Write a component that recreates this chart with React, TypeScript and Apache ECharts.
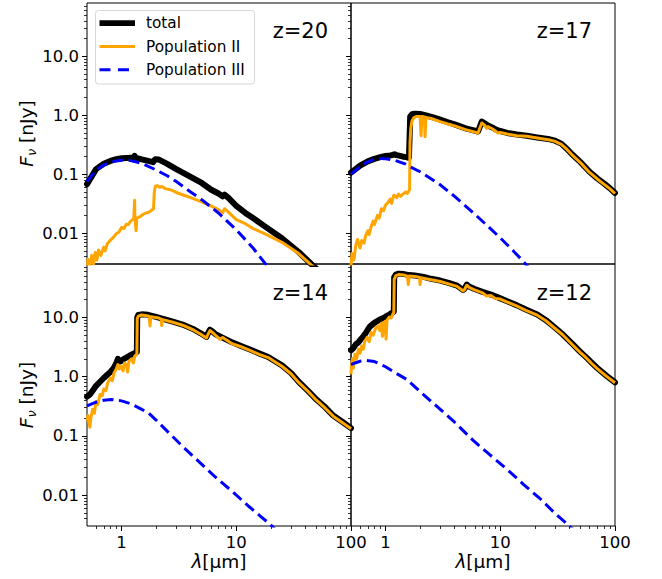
import React, { useEffect, useRef } from "react";
import * as echarts from "echarts";

// ---- data: [wavelength (µm), flux (nJy)] ----
const z20Total = [[0.5,0.068],[0.6,0.122],[0.7,0.15],[0.8,0.168],[0.9,0.18],[1.0,0.186],[1.1,0.188],[1.2,0.19],[1.28,0.19],[1.3,0.205],[1.32,0.19],[1.5,0.178],[1.7,0.168],[1.88,0.16],[1.93,0.172],[1.97,0.18],[2.1,0.178],[2.5,0.15],[3,0.122],[4,0.09],[5,0.071],[6,0.055],[7,0.047],[7.6,0.042],[7.9,0.045],[8.5,0.04],[10,0.029],[12,0.022],[14,0.018],[18,0.0128],[25,0.0082],[35,0.0048],[45,0.003],[50,0.0025]];
const z20PopII = [[0.5,0.0025],[0.51,0.0036],[0.53,0.0027],[0.55,0.0042],[0.57,0.003],[0.59,0.0047],[0.61,0.0035],[0.63,0.0052],[0.66,0.0042],[0.7,0.0058],[0.72,0.005],[0.75,0.0066],[0.8,0.0076],[0.85,0.0085],[0.9,0.0098],[0.95,0.0105],[1.0,0.0125],[1.05,0.012],[1.1,0.0142],[1.15,0.014],[1.2,0.016],[1.25,0.017],[1.28,0.018],[1.3,0.036],[1.31,0.017],[1.34,0.011],[1.36,0.018],[1.45,0.019],[1.55,0.021],[1.65,0.022],[1.75,0.023],[1.85,0.025],[1.9,0.026],[1.93,0.05],[1.97,0.062],[2.05,0.064],[2.15,0.06],[2.25,0.062],[2.4,0.057],[2.7,0.054],[3,0.049],[3.5,0.044],[4,0.04],[5,0.034],[6,0.029],[7,0.025],[7.6,0.022],[7.9,0.026],[8.5,0.023],[10,0.017],[12,0.0145],[14,0.012],[18,0.0096],[25,0.007],[35,0.0045],[45,0.0029],[50,0.0025]];
const z20PopIII = [[0.5,0.075],[0.6,0.118],[0.7,0.143],[0.8,0.159],[0.9,0.168],[1.0,0.172],[1.2,0.17],[1.5,0.153],[2,0.118],[2.5,0.094],[3,0.075],[4,0.05],[5,0.037],[7,0.022],[10,0.0114],[14,0.0056],[18,0.003],[21,0.0022]];

const z17Total = [[0.5,0.106],[0.6,0.14],[0.7,0.165],[0.8,0.182],[0.9,0.195],[1.0,0.203],[1.1,0.208],[1.15,0.212],[1.2,0.218],[1.25,0.21],[1.4,0.2],[1.5,0.195],[1.6,0.19],[1.64,0.95],[1.7,1.04],[1.8,1.06],[2.0,1.05],[2.3,0.98],[2.6,0.92],[3,0.84],[3.5,0.76],[4,0.7],[5,0.6],[6.4,0.53],[6.6,0.62],[6.9,0.78],[7.3,0.73],[7.8,0.67],[8.5,0.62],[9.2,0.57],[10,0.54],[11.5,0.5],[14,0.47],[17,0.45],[21,0.42],[27,0.39],[30,0.37],[34,0.33],[38,0.27],[42,0.22],[50,0.16],[60,0.11],[70,0.085],[80,0.07],[90,0.058],[100,0.048]];
const z17PopII = [[0.5,0.0028],[0.51,0.0045],[0.53,0.0035],[0.55,0.0062],[0.57,0.0078],[0.6,0.0056],[0.62,0.0075],[0.65,0.0068],[0.67,0.009],[0.7,0.011],[0.72,0.0095],[0.75,0.013],[0.78,0.016],[0.8,0.014],[0.85,0.02],[0.88,0.018],[0.92,0.026],[0.96,0.024],[1.0,0.03],[1.05,0.033],[1.1,0.038],[1.13,0.032],[1.18,0.044],[1.25,0.04],[1.3,0.046],[1.35,0.042],[1.4,0.045],[1.5,0.05],[1.55,0.047],[1.62,0.055],[1.635,0.35],[1.66,0.6],[1.7,0.8],[1.76,0.9],[1.85,0.95],[2.0,0.95],[2.04,0.45],[2.08,0.95],[2.18,0.93],[2.21,0.43],[2.25,0.92],[2.5,0.88],[3,0.78],[3.5,0.71],[4,0.66],[5,0.57],[6.4,0.5],[6.6,0.59],[6.9,0.74],[7.3,0.68],[7.6,0.6],[7.8,0.64],[8.5,0.59],[9.2,0.53],[9.5,0.5],[10,0.51],[11.5,0.48],[14,0.45],[17,0.44],[21,0.41],[27,0.38],[30,0.36],[34,0.32],[38,0.265],[42,0.215],[50,0.157],[60,0.107],[70,0.083],[80,0.068],[90,0.057],[100,0.047]];
const z17PopIII = [[0.5,0.1],[0.6,0.135],[0.7,0.162],[0.8,0.178],[0.9,0.185],[1.0,0.183],[1.2,0.172],[1.5,0.148],[1.63,0.134],[2,0.11],[3,0.066],[4,0.042],[6,0.021],[8,0.0125],[10,0.0083],[13,0.005],[15.5,0.0035],[18,0.0025]];

const z14Total = [[0.5,0.46],[0.53,0.5],[0.56,0.58],[0.6,0.7],[0.65,0.82],[0.7,0.95],[0.76,1.1],[0.8,1.2],[0.86,1.42],[0.9,1.7],[0.93,2.0],[0.96,1.8],[1.0,1.85],[1.05,2.0],[1.1,2.1],[1.15,2.2],[1.22,2.35],[1.3,2.5],[1.36,2.6],[1.37,10],[1.4,11],[1.5,11.3],[1.7,11.1],[2.0,10.2],[2.3,9.5],[2.8,8.5],[3.4,7.6],[4.2,6.4],[4.9,5.4],[5.5,4.7],[5.7,5.5],[5.9,6.2],[6.2,5.8],[6.6,5.2],[7.5,4.6],[9.2,3.8],[11,3.3],[13,2.9],[16,2.45],[19,2.15],[22,1.8],[25,1.55],[30,1.15],[35,0.82],[42,0.58],[50,0.41],[60,0.3],[70,0.22],[85,0.17],[100,0.135]];
const z14PopII = [[0.5,0.18],[0.51,0.22],[0.52,0.17],[0.53,0.14],[0.54,0.2],[0.56,0.28],[0.58,0.24],[0.6,0.38],[0.62,0.34],[0.65,0.5],[0.68,0.48],[0.7,0.62],[0.73,0.58],[0.76,0.8],[0.8,0.95],[0.83,0.85],[0.86,1.15],[0.9,1.35],[0.93,1.6],[0.96,1.35],[1.0,1.5],[1.03,1.25],[1.06,1.7],[1.1,1.6],[1.13,1.2],[1.16,1.8],[1.22,2.0],[1.27,1.7],[1.3,2.2],[1.36,2.4],[1.37,9.5],[1.4,10.5],[1.5,11],[1.6,10.8],[1.74,10.5],[1.77,7.2],[1.8,10.3],[2.1,9.8],[2.21,9.4],[2.24,7.3],[2.28,9.2],[2.8,8.3],[3.4,7.4],[4.2,6.2],[4.9,5.2],[5.5,4.5],[5.7,5.3],[5.9,6.0],[6.2,5.6],[6.6,5.0],[7.2,4.3],[7.6,4.6],[9.2,3.6],[11,3.2],[13,2.8],[16,2.35],[19,2.1],[22,1.75],[25,1.5],[30,1.12],[35,0.8],[42,0.57],[50,0.4],[60,0.29],[70,0.215],[85,0.165],[100,0.132]];
const z14PopIII = [[0.5,0.32],[0.6,0.37],[0.7,0.4],[0.82,0.41],[1.0,0.39],[1.2,0.35],[1.5,0.28],[1.71,0.245],[2,0.185],[2.5,0.12],[3.36,0.068],[4.5,0.04],[6.6,0.02],[9,0.012],[12.9,0.0064],[16,0.0045],[19.4,0.0033],[22,0.0026]];

const z12Total = [[0.5,2.8],[0.52,3.0],[0.55,3.5],[0.58,3.8],[0.61,4.3],[0.64,4.8],[0.67,5.4],[0.7,6.2],[0.73,7.0],[0.78,7.8],[0.84,8.6],[0.9,9.3],[0.96,9.8],[1.02,10.5],[1.08,11.2],[1.14,12],[1.18,12.5],[1.19,48],[1.23,53],[1.3,55],[1.45,54],[1.6,52],[1.8,51],[2.15,48.5],[2.5,45],[3,42],[3.6,38],[4.2,34.5],[4.75,29],[4.9,31],[5.1,36],[5.4,33],[5.9,30.5],[7,27],[8.3,24.4],[10,21],[11.5,18.8],[14,16],[16.7,13.6],[21,11.2],[25,9],[29,7.1],[35,5.2],[43,3.5],[50,2.6],[55,2.2],[58,2.0],[62,1.75],[70,1.4],[85,1.02],[100,0.8]];
const z12PopII = [[0.5,1.1],[0.505,1.6],[0.515,2.0],[0.525,1.4],[0.54,2.4],[0.56,2.0],[0.58,2.9],[0.6,2.5],[0.62,3.3],[0.64,2.9],[0.66,4.0],[0.69,4.6],[0.72,3.9],[0.75,5.6],[0.78,5.0],[0.82,6.6],[0.86,7.2],[0.89,6.0],[0.92,8.0],[0.94,4.8],[0.96,8.2],[0.99,8.6],[1.01,4.3],[1.03,9.0],[1.08,10.2],[1.12,9.8],[1.16,11.5],[1.18,12],[1.19,44],[1.23,51],[1.3,53],[1.45,52],[1.55,50],[1.58,36],[1.61,50],[1.8,49],[1.97,48],[2.0,36],[2.03,47],[2.5,43.5],[3,40.5],[3.6,36.5],[4.2,33.5],[4.75,28],[4.9,30],[5.1,35],[5.4,32],[5.9,29.5],[7,26],[7.6,23],[8.3,23.5],[9,21],[10,20.5],[11.5,18.2],[14,15.5],[16.7,13.2],[21,10.9],[25,8.8],[29,6.9],[35,5.1],[43,3.4],[50,2.55],[55,2.15],[58,1.95],[62,1.7],[70,1.37],[85,1.0],[100,0.79]];
const z12PopIII = [[0.5,1.6],[0.55,1.72],[0.6,1.82],[0.68,1.88],[0.8,1.8],[1.0,1.47],[1.2,1.18],[1.53,0.9],[2,0.56],[3,0.28],[4,0.17],[5.87,0.082],[8,0.049],[11.5,0.027],[16,0.015],[22.5,0.0085],[30,0.0049],[38.7,0.0032],[45,0.0024]];

const panelLabels = ["z=20", "z=17", "z=14", "z=12"];
const legendLabels = ["total", "Population II", "Population III"];
const xTickValues = [1, 10, 100];
const xTickLabels = ["1", "10", "100"];
const yTickValues = [0.01, 0.1, 1, 10];
const yTickLabels = ["0.01", "0.1", "1.0", "10.0"];
const X_RANGE = [0.5, 100];
const Y_RANGE = [0.003, 80];

const FONT = "DejaVu Sans";
const lg = Math.log10;
const toLog = (arr: number[][]) => arr.map(([x, y]) => [lg(x), lg(y)]);
const minorTicks = (lo: number, hi: number) => {
  const out: number[] = [];
  for (let e = -4; e <= 3; e++) {
    for (let k = 2; k <= 9; k++) {
      const v = k * Math.pow(10, e);
      if (v > lo * 1.0001 && v < hi * 0.9999) out.push(lg(v));
    }
  }
  return out;
};

const panels = [
  { total: z20Total, p2: z20PopII, p3: z20PopIII },
  { total: z17Total, p2: z17PopII, p3: z17PopIII },
  { total: z14Total, p2: z14PopII, p3: z14PopIII },
  { total: z12Total, p2: z12PopII, p3: z12PopIII },
];

const grids = [
  { left: 87, top: 3, width: 264, height: 261 },
  { left: 351, top: 3, width: 264, height: 261 },
  { left: 87, top: 264, width: 264, height: 262 },
  { left: 351, top: 264, width: 264, height: 262 },
];

function buildOption() {
  const xMin = lg(X_RANGE[0]), xMax = lg(X_RANGE[1]);
  const yMin = lg(Y_RANGE[0]), yMax = lg(Y_RANGE[1]);
  const xMajor = xTickValues.map(lg);
  const yMajor = yTickValues.map(lg);
  const xMinor = minorTicks(X_RANGE[0], X_RANGE[1]);
  const yMinor = minorTicks(Y_RANGE[0], Y_RANGE[1]);
  const xFmt = (v: number) => {
    const i = xMajor.findIndex((m) => Math.abs(m - v) < 1e-6);
    return i >= 0 ? xTickLabels[i] : "";
  };
  const yFmt = (v: number) => {
    const i = yMajor.findIndex((m) => Math.abs(m - v) < 1e-6);
    return i >= 0 ? yTickLabels[i] : "";
  };
  const tickLabelStyle = { color: "#000", fontFamily: FONT, fontSize: 16.5 };

  const xAxis: any[] = [];
  const yAxis: any[] = [];
  for (let g = 0; g < 4; g++) {
    const bottom = g >= 2;
    const left = g % 2 === 0;
    xAxis.push({
      type: "value", gridIndex: g, position: "bottom", min: xMin, max: xMax,
      splitLine: { show: false },
      axisLine: { show: false, onZero: false },
      axisTick: { show: bottom, length: 5, customValues: xMajor, lineStyle: { color: "#000", width: 1 } },
      axisLabel: { show: bottom, customValues: xMajor, formatter: xFmt, margin: 8, ...tickLabelStyle },
      name: bottom ? "{i|λ}[µm]" : "",
      nameLocation: "middle", nameGap: 23,
      nameTextStyle: {
        color: "#000", fontFamily: FONT, fontSize: 18.5,
        rich: { i: { fontStyle: "italic", fontFamily: FONT, fontSize: 18.5, color: "#000" } },
      },
    });
    yAxis.push({
      type: "value", gridIndex: g, position: "left", min: yMin, max: yMax,
      splitLine: { show: false },
      axisLine: { show: false, onZero: false },
      axisTick: { show: true, length: 5, customValues: yMajor, lineStyle: { color: "#000", width: 1 } },
      axisLabel: { show: left, customValues: yMajor, formatter: yFmt, margin: 8, ...tickLabelStyle },
      name: left ? "{i|F}{s|ν} [nJy]" : "",
      nameLocation: "middle", nameRotate: 90, nameGap: 47,
      nameTextStyle: {
        color: "#000", fontFamily: FONT, fontSize: 18.5,
        rich: {
          i: { fontStyle: "italic", fontFamily: FONT, fontSize: 18.5, color: "#000", lineHeight: 24, verticalAlign: "middle" },
          s: { fontStyle: "italic", fontFamily: FONT, fontSize: 13, color: "#000", lineHeight: 14, verticalAlign: "bottom" },
        },
      },
    });
  }
  for (let g = 0; g < 4; g++) {
    const bottom = g >= 2;
    xAxis.push({
      type: "value", gridIndex: g, position: "bottom", min: xMin, max: xMax,
      splitLine: { show: false }, axisLine: { show: false, onZero: false },
      axisTick: { show: bottom, length: 3, customValues: xMinor, lineStyle: { color: "#000", width: 0.8 } },
      axisLabel: { show: false },
    });
    yAxis.push({
      type: "value", gridIndex: g, position: "left", min: yMin, max: yMax,
      splitLine: { show: false }, axisLine: { show: false, onZero: false },
      axisTick: { show: true, length: 3, customValues: yMinor, lineStyle: { color: "#000", width: 0.8 } },
      axisLabel: { show: false },
    });
  }

  const series: any[] = [];
  panels.forEach((p, g) => {
    const base = { type: "line", xAxisIndex: g, yAxisIndex: g, showSymbol: false, symbol: "none", clip: true, silent: true };
    series.push({ ...base, name: legendLabels[0], data: toLog(p.total), z: 2,
      lineStyle: { color: "#000", width: 6, join: "round", cap: "round" } });
    series.push({ ...base, name: legendLabels[1], data: toLog(p.p2), z: 3,
      lineStyle: { color: "#ffa500", width: 3, join: "round" } });
    series.push({ ...base, name: legendLabels[2], data: toLog(p.p3), z: 4,
      lineStyle: { color: "#0000ff", width: 3, type: [11, 5.5] } });
  });

  const zPos = [
    [328, 30.5], [592, 30.5], [328, 292.5], [592, 292.5],
  ];
  const graphic: any[] = panelLabels.map((t, i) => ({
    type: "text", x: zPos[i][0], y: zPos[i][1], z: 100,
    style: { text: t, fill: "#000", font: `21px "${FONT}"`, textAlign: "right", textVerticalAlign: "middle" },
  }));
  const legY = [23.2, 46.5, 69.8];
  graphic.push({
    type: "group", z: 100,
    children: [
      { type: "rect", shape: { x: 95.5, y: 10.5, width: 159, height: 73.5, r: 3 },
        style: { fill: "rgba(255,255,255,0.8)", stroke: "#d6d6d6", lineWidth: 1 } },
      { type: "line", shape: { x1: 99.5, y1: legY[0], x2: 135, y2: legY[0] }, style: { stroke: "#000", lineWidth: 5.8 } },
      { type: "line", shape: { x1: 99.5, y1: legY[1], x2: 135, y2: legY[1] }, style: { stroke: "#ffa500", lineWidth: 3 } },
      { type: "line", shape: { x1: 99.5, y1: legY[2], x2: 135, y2: legY[2] }, style: { stroke: "#0000ff", lineWidth: 3, lineDash: [11, 7.5] } },
      ...legendLabels.map((t, i) => ({
        type: "text", x: 146, y: legY[i],
        style: { text: t, fill: "#000", font: `15.3px "${FONT}"`, textAlign: "left", textVerticalAlign: "middle" },
      })),
    ],
  });

  return {
    animation: false,
    backgroundColor: "#fff",
    grid: grids.map((g) => ({ ...g, containLabel: false, show: true, borderColor: "#000", borderWidth: 1, backgroundColor: "transparent" })),
    xAxis, yAxis, series, graphic,
  };
}

export default function App() {
  const ref = useRef<HTMLDivElement>(null);
  useEffect(() => {
    if (!ref.current) return;
    const chart = echarts.init(ref.current, null, { renderer: "svg" });
    chart.setOption(buildOption() as any);
    return () => chart.dispose();
  }, []);
  return <div ref={ref} style={{ position: "absolute", left: 0, top: 0, width: 662, height: 579 }} />;
}
